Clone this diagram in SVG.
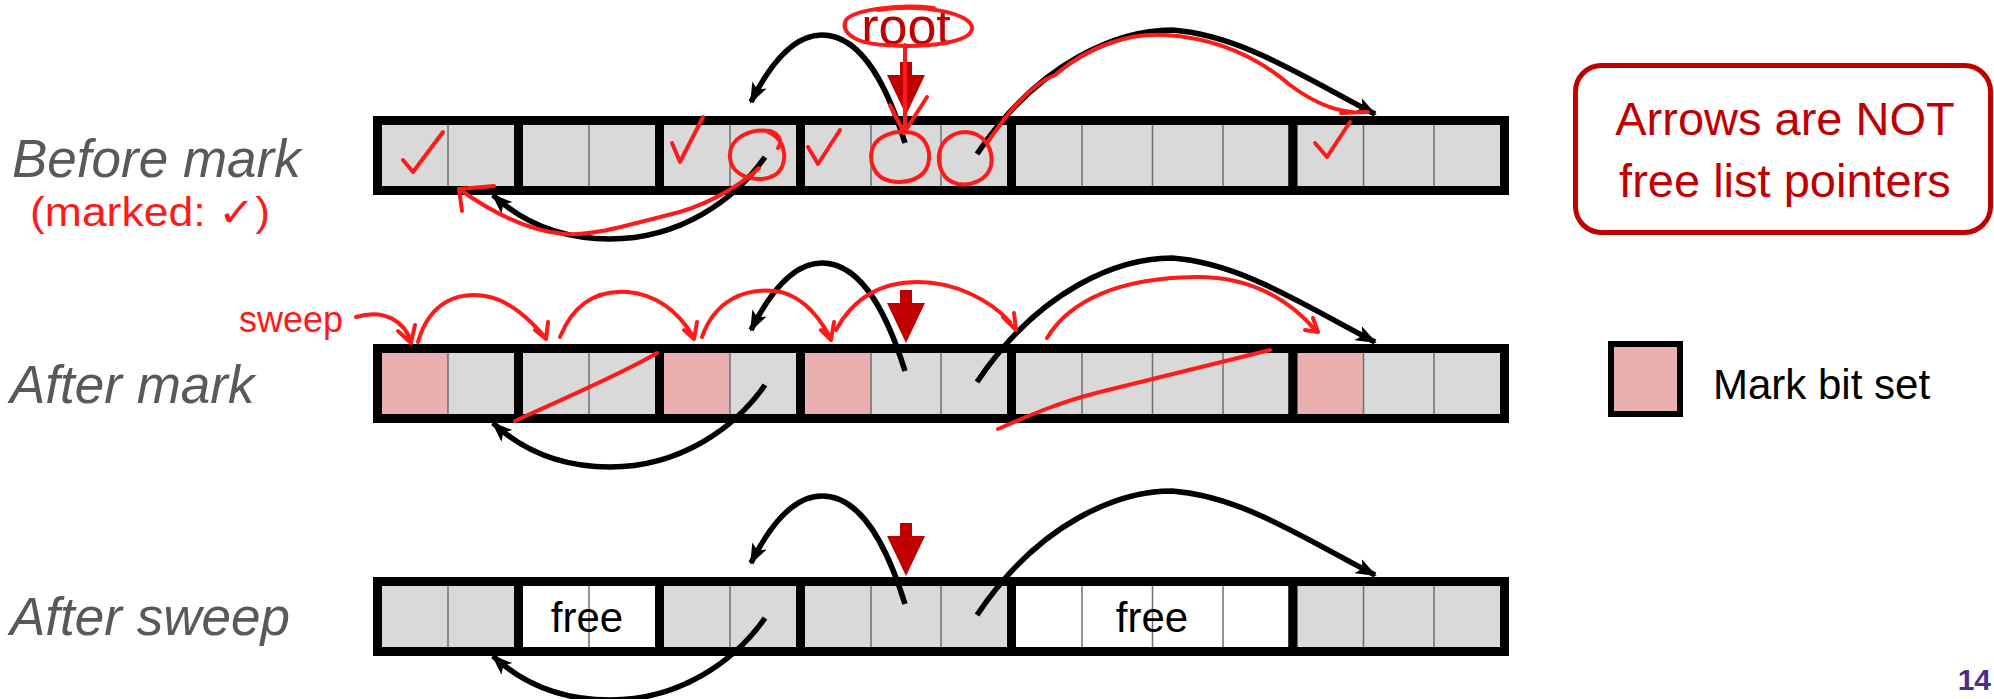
<svg xmlns="http://www.w3.org/2000/svg" width="1994" height="699" viewBox="0 0 1994 699">
<style>
.g{fill:#d9d9d9}
.p{fill:#eab0b0}
.w{fill:#ffffff}
.dv{stroke:#6f6f6f;stroke-width:1.5}
.blk{fill:none;stroke:#000;stroke-width:9}
.conn{fill:none;stroke:#000;stroke-width:5.5;marker-end:url(#ah)}
.ink{fill:none;stroke:#ff1a1a;stroke-width:4;stroke-linecap:round;stroke-linejoin:round}
.rarr{fill:#c00000}
.lbl{font-family:"Liberation Sans",Arial,sans-serif;font-style:italic;font-size:53px;fill:#595959}
.free{font-family:"Liberation Sans",Arial,sans-serif;font-size:42px;fill:#000;text-anchor:middle}
.hand{font-family:"Liberation Sans","DejaVu Sans",sans-serif;fill:#ff1a1a}
</style>
<defs>
<marker id="ah" markerUnits="userSpaceOnUse" markerWidth="22" markerHeight="18" refX="19" refY="9" orient="auto">
<path d="M0,1 L21,9 L0,17 L5,9 z" fill="#000"/>
</marker>
</defs>
<rect width="1994" height="699" fill="#fff"/>

<!-- labels -->
<text class="lbl" x="12" y="177">Before mark</text>
<text class="lbl" x="10" y="403">After mark</text>
<text class="lbl" x="10" y="635">After sweep</text>

<!-- Row 1: before mark -->
<g id="row1">
 <g id="r1b1"><rect class="g" x="377.5" y="120.5" width="141" height="70"/><line class="dv" x1="448" y1="120.5" x2="448" y2="190.5"/><rect class="blk" x="377.5" y="120.5" width="141" height="70"/></g>
 <g id="r1b2"><rect class="g" x="518.5" y="120.5" width="141" height="70"/><line class="dv" x1="589" y1="120.5" x2="589" y2="190.5"/><rect class="blk" x="518.5" y="120.5" width="141" height="70"/></g>
 <g id="r1b3"><rect class="g" x="659.5" y="120.5" width="141" height="70"/><line class="dv" x1="730" y1="120.5" x2="730" y2="190.5"/><rect class="blk" x="659.5" y="120.5" width="141" height="70"/></g>
 <g id="r1b4"><rect class="g" x="800.5" y="120.5" width="211" height="70"/><line class="dv" x1="871" y1="120.5" x2="871" y2="190.5"/><line class="dv" x1="941" y1="120.5" x2="941" y2="190.5"/><rect class="blk" x="800.5" y="120.5" width="211" height="70"/></g>
 <g id="r1b5"><rect class="g" x="1011.5" y="120.5" width="281.5" height="70"/><line class="dv" x1="1082" y1="120.5" x2="1082" y2="190.5"/><line class="dv" x1="1152.5" y1="120.5" x2="1152.5" y2="190.5"/><line class="dv" x1="1223" y1="120.5" x2="1223" y2="190.5"/><rect class="blk" x="1011.5" y="120.5" width="281.5" height="70"/></g>
 <g id="r1b6"><rect class="g" x="1293" y="120.5" width="211.5" height="70"/><line class="dv" x1="1363.5" y1="120.5" x2="1363.5" y2="190.5"/><line class="dv" x1="1434" y1="120.5" x2="1434" y2="190.5"/><rect class="blk" x="1293" y="120.5" width="211.5" height="70"/></g>
</g>

<!-- Row 2: after mark -->
<g id="row2" transform="translate(0,228)">
 <g id="r2b1"><rect class="p" x="377.5" y="120.5" width="70.5" height="70"/><rect class="g" x="448" y="120.5" width="70.5" height="70"/><line class="dv" x1="448" y1="120.5" x2="448" y2="190.5"/><rect class="blk" x="377.5" y="120.5" width="141" height="70"/></g>
 <g id="r2b2"><rect class="g" x="518.5" y="120.5" width="141" height="70"/><line class="dv" x1="589" y1="120.5" x2="589" y2="190.5"/><rect class="blk" x="518.5" y="120.5" width="141" height="70"/></g>
 <g id="r2b3"><rect class="p" x="659.5" y="120.5" width="70.5" height="70"/><rect class="g" x="730" y="120.5" width="70.5" height="70"/><line class="dv" x1="730" y1="120.5" x2="730" y2="190.5"/><rect class="blk" x="659.5" y="120.5" width="141" height="70"/></g>
 <g id="r2b4"><rect class="p" x="800.5" y="120.5" width="70.5" height="70"/><rect class="g" x="871" y="120.5" width="140.5" height="70"/><line class="dv" x1="871" y1="120.5" x2="871" y2="190.5"/><line class="dv" x1="941" y1="120.5" x2="941" y2="190.5"/><rect class="blk" x="800.5" y="120.5" width="211" height="70"/></g>
 <g id="r2b5"><rect class="g" x="1011.5" y="120.5" width="281.5" height="70"/><line class="dv" x1="1082" y1="120.5" x2="1082" y2="190.5"/><line class="dv" x1="1152.5" y1="120.5" x2="1152.5" y2="190.5"/><line class="dv" x1="1223" y1="120.5" x2="1223" y2="190.5"/><rect class="blk" x="1011.5" y="120.5" width="281.5" height="70"/></g>
 <g id="r2b6"><rect class="p" x="1293" y="120.5" width="70.5" height="70"/><rect class="g" x="1363.5" y="120.5" width="141" height="70"/><line class="dv" x1="1363.5" y1="120.5" x2="1363.5" y2="190.5"/><line class="dv" x1="1434" y1="120.5" x2="1434" y2="190.5"/><rect class="blk" x="1293" y="120.5" width="211.5" height="70"/></g>
</g>

<!-- Row 3: after sweep -->
<g id="row3" transform="translate(0,461)">
 <g id="r3b1"><rect class="g" x="377.5" y="120.5" width="141" height="70"/><line class="dv" x1="448" y1="120.5" x2="448" y2="190.5"/><rect class="blk" x="377.5" y="120.5" width="141" height="70"/></g>
 <g id="r3b2"><rect class="w" x="518.5" y="120.5" width="141" height="70"/><line class="dv" x1="589" y1="120.5" x2="589" y2="190.5"/><rect class="blk" x="518.5" y="120.5" width="141" height="70"/><text class="free" x="587" y="171">free</text></g>
 <g id="r3b3"><rect class="g" x="659.5" y="120.5" width="141" height="70"/><line class="dv" x1="730" y1="120.5" x2="730" y2="190.5"/><rect class="blk" x="659.5" y="120.5" width="141" height="70"/></g>
 <g id="r3b4"><rect class="g" x="800.5" y="120.5" width="211" height="70"/><line class="dv" x1="871" y1="120.5" x2="871" y2="190.5"/><line class="dv" x1="941" y1="120.5" x2="941" y2="190.5"/><rect class="blk" x="800.5" y="120.5" width="211" height="70"/></g>
 <g id="r3b5"><rect class="w" x="1011.5" y="120.5" width="281.5" height="70"/><line class="dv" x1="1082" y1="120.5" x2="1082" y2="190.5"/><line class="dv" x1="1152.5" y1="120.5" x2="1152.5" y2="190.5"/><line class="dv" x1="1223" y1="120.5" x2="1223" y2="190.5"/><rect class="blk" x="1011.5" y="120.5" width="281.5" height="70"/><text class="free" x="1152" y="171">free</text></g>
 <g id="r3b6"><rect class="g" x="1293" y="120.5" width="211.5" height="70"/><line class="dv" x1="1363.5" y1="120.5" x2="1363.5" y2="190.5"/><line class="dv" x1="1434" y1="120.5" x2="1434" y2="190.5"/><rect class="blk" x="1293" y="120.5" width="211.5" height="70"/></g>
</g>

<!-- connectors -->
<g id="connectors">
 <g id="conn-row1">
  <path class="conn" d="M905,143 C890,95 865,35 822,35 C795,35 772,60 751,102"/>
  <path class="conn" d="M977,154 C1040,60 1120,30 1172,30 C1240,35 1300,75 1375,114"/>
  <path class="conn" d="M765,157 C735,200 680,239 610,239 C560,239 522,222 493,195"/>
  <polygon class="rarr" points="900,62 912,62 912,75 925,75 906,115 887,75 900,75"/>
 </g>
 <g id="conn-row2" transform="translate(0,228)">
  <path class="conn" d="M905,143 C890,95 865,35 822,35 C795,35 772,60 751,102"/>
  <path class="conn" d="M977,154 C1040,60 1120,30 1172,30 C1240,35 1300,75 1375,114"/>
  <path class="conn" d="M765,157 C735,200 680,239 610,239 C560,239 522,222 493,195"/>
  <polygon class="rarr" points="900,62 912,62 912,75 925,75 906,115 887,75 900,75"/>
 </g>
 <g id="conn-row3" transform="translate(0,461)">
  <path class="conn" d="M905,143 C890,95 865,35 822,35 C795,35 772,60 751,102"/>
  <path class="conn" d="M977,154 C1040,60 1120,30 1172,30 C1240,35 1300,75 1375,114"/>
  <path class="conn" d="M765,157 C735,200 680,239 610,239 C560,239 522,222 493,195"/>
  <polygon class="rarr" points="900,62 912,62 912,75 925,75 906,115 887,75 900,75"/>
 </g>
</g>

<!-- root label -->
<g id="root">
 <text x="906" y="44" text-anchor="middle" font-family="Liberation Sans, Arial, sans-serif" font-size="52" fill="#c00000">root</text>
</g>

<!-- hand-drawn red annotations -->
<g id="annotations">
 <path class="ink" d="M878,10 C925,3 972,14 972,28 C972,43 925,48 885,45 C850,43 841,30 846,20 C855,9 900,4 934,8"/>
 <path class="ink" d="M905,45 L905,132 M890,105 L904,133 L927,97"/>
 <path class="ink" d="M403,160 L413,172 L443,132"/>
 <path class="ink" d="M672,143 L680,162 L703,117"/>
 <path class="ink" d="M808,147 L818,164 L840,130"/>
 <path class="ink" d="M1315,143 L1327,157 L1350,122"/>
 <path class="ink" d="M768,132 C786,138 790,165 775,175 C760,184 732,178 730,158 C728,138 750,128 770,131 C779,134 783,142 778,148"/>
 <path class="ink" d="M905,132 C925,132 932,150 928,165 C923,180 905,184 890,181 C873,177 868,160 873,147 C878,136 893,131 905,132"/>
 <path class="ink" d="M966,132 C985,133 994,150 991,166 C987,180 972,186 958,184 C943,181 936,165 940,150 C944,138 955,132 966,132"/>
 <path class="ink" d="M759,168 C735,190 700,208 668,215 C630,224 595,236 565,234 C535,232 500,218 459,189"/>
 <path class="ink" d="M459,189 L494,186 M459,189 L462,211"/>
 <path class="ink" d="M987,143 C1010,110 1030,85 1055,75 C1090,45 1130,33 1165,35 C1215,38 1255,55 1290,85 C1310,100 1330,110 1352,112"/>
 <path class="ink" d="M1341,113 L1368,112"/>
 <text class="hand" x="30" y="226" font-size="40" textLength="240" lengthAdjust="spacingAndGlyphs">(marked: ✓)</text>
 <g id="sweep-ink">
  <text class="hand" x="239" y="332" font-size="36">sweep</text>
  <path class="ink" d="M356,317 C385,308 405,322 411,342 M398,331 L411,343 L415,325"/>
  <path class="ink" d="M418,342 C430,300 460,292 485,296 C510,300 530,320 545,337 M535,330 L546,339 L548,322"/>
  <path class="ink" d="M560,337 C575,300 600,290 628,292 C660,295 680,315 693,336 M684,330 L694,339 L697,322"/>
  <path class="ink" d="M702,337 C715,300 745,288 775,291 C800,294 818,315 830,337 M821,330 L831,340 L834,322"/>
  <path class="ink" d="M836,330 C855,295 885,282 918,282 C955,282 990,300 1010,322 M1003,317 L1016,330 L1014,313"/>
  <path class="ink" d="M1047,338 C1070,300 1120,278 1195,277 C1250,276 1290,300 1315,330 M1313,318 L1318,332 L1305,330"/>
  <path class="ink" d="M515,421 C560,400 620,375 657,353"/>
  <path class="ink" d="M998,429 C1030,415 1060,402 1100,392 C1170,375 1220,362 1270,350"/>
 </g>
</g>

<!-- note box -->
<g id="note">
 <rect x="1575.5" y="65.5" width="415" height="167" rx="26" fill="#fff" stroke="#c00000" stroke-width="5"/>
 <text x="1785" y="135" text-anchor="middle" font-family="Liberation Sans, Arial, sans-serif" font-size="47" fill="#c00000">Arrows are NOT</text>
 <text x="1785" y="197" text-anchor="middle" font-family="Liberation Sans, Arial, sans-serif" font-size="47" fill="#c00000">free list pointers</text>
</g>

<!-- legend -->
<g id="legend">
 <rect x="1611" y="344" width="69" height="70" fill="#eab0b0" stroke="#000" stroke-width="6"/>
 <text x="1713" y="399" font-family="Liberation Sans, Arial, sans-serif" font-size="42" fill="#000">Mark bit set</text>
</g>

<text x="1991" y="690" text-anchor="end" font-family="Liberation Sans Narrow, Liberation Sans, Arial, sans-serif" font-weight="bold" font-size="30" fill="#4b2e8a">14</text>
</svg>
